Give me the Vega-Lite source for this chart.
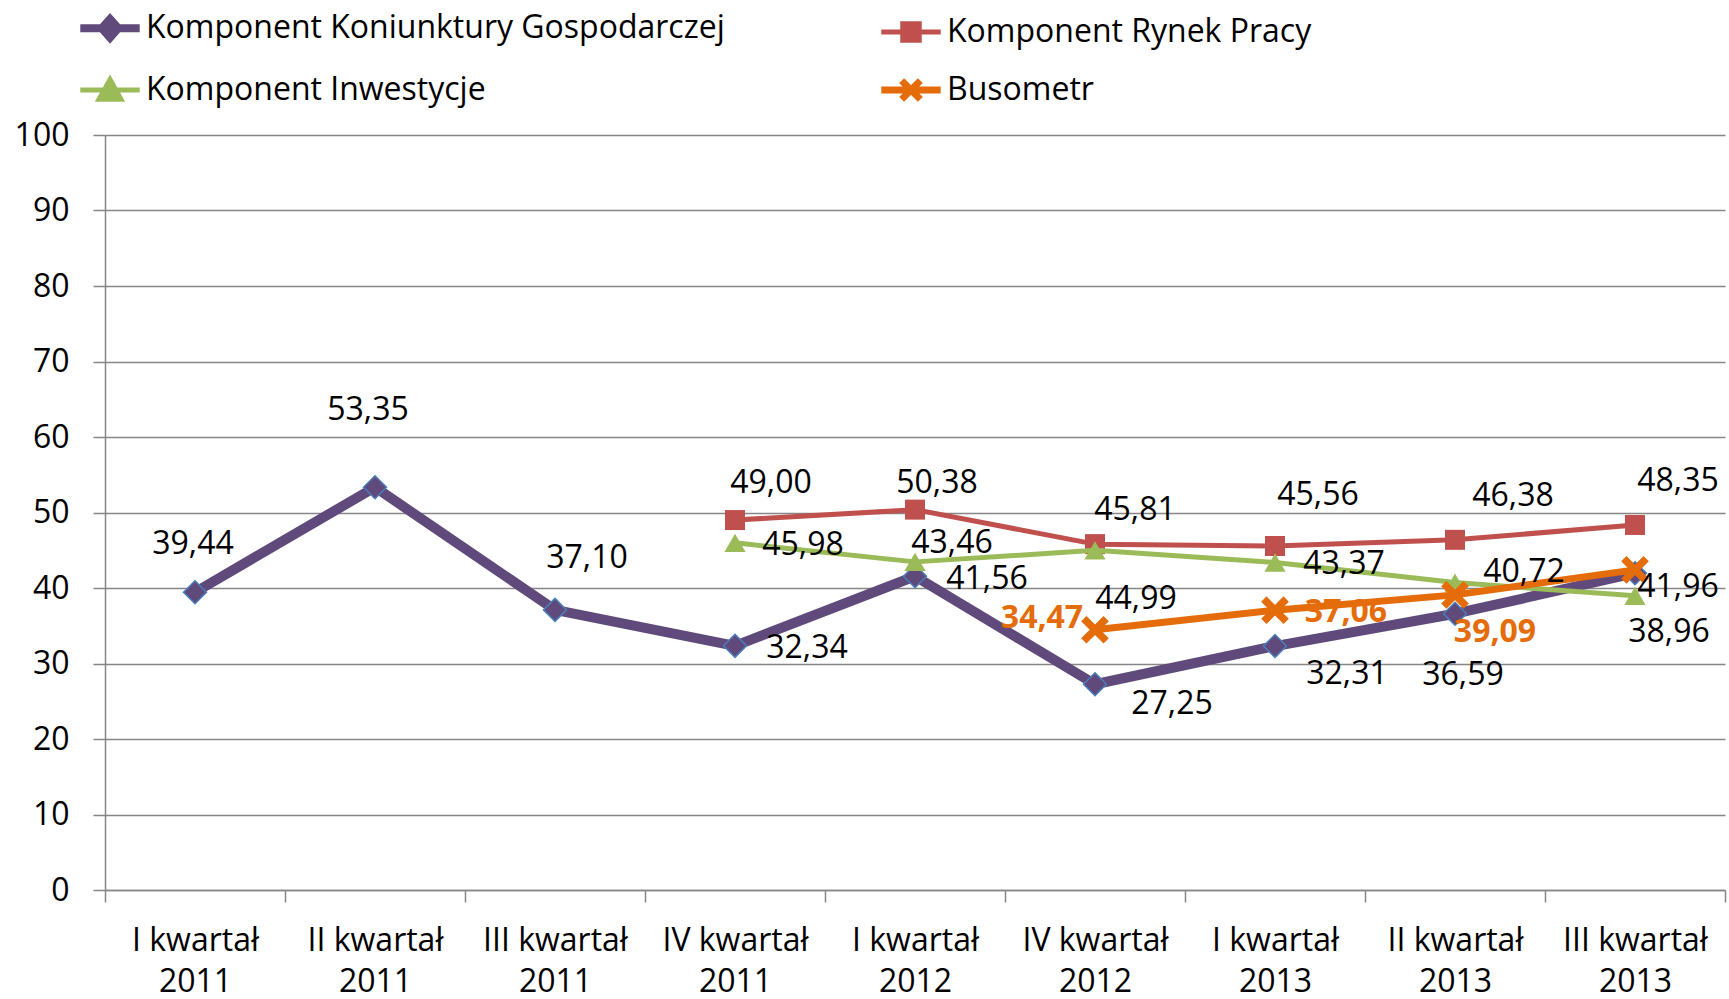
{
  "$schema": "https://vega.github.io/schema/vega-lite/v6.json",
  "width": 1620,
  "height": 755,
  "autosize": "none",
  "padding": {"left": 105, "top": 135, "right": 4, "bottom": 109},
  "background": "white",
  "config": {
    "view": {"stroke": null},
    "locale": {"number": {"decimal": ",", "thousands": ".", "grouping": [3], "currency": ["", " zł"]}},
    "text": {"font": "Open Sans", "fontSize": 32, "color": "black", "align": "center", "baseline": "middle"}
  },
  "data": {
    "values": [
      {"c": "I kwartał 2011", "s": "Komponent Koniunktury Gospodarczej", "v": 39.44},
      {"c": "II kwartał 2011", "s": "Komponent Koniunktury Gospodarczej", "v": 53.35},
      {"c": "III kwartał 2011", "s": "Komponent Koniunktury Gospodarczej", "v": 37.10},
      {"c": "IV kwartał 2011", "s": "Komponent Koniunktury Gospodarczej", "v": 32.34},
      {"c": "I kwartał 2012", "s": "Komponent Koniunktury Gospodarczej", "v": 41.56},
      {"c": "IV kwartał 2012", "s": "Komponent Koniunktury Gospodarczej", "v": 27.25},
      {"c": "I kwartał 2013", "s": "Komponent Koniunktury Gospodarczej", "v": 32.31},
      {"c": "II kwartał 2013", "s": "Komponent Koniunktury Gospodarczej", "v": 36.59},
      {"c": "III kwartał 2013", "s": "Komponent Koniunktury Gospodarczej", "v": 41.96},
      {"c": "IV kwartał 2011", "s": "Komponent Rynek Pracy", "v": 49.00},
      {"c": "I kwartał 2012", "s": "Komponent Rynek Pracy", "v": 50.38},
      {"c": "IV kwartał 2012", "s": "Komponent Rynek Pracy", "v": 45.81},
      {"c": "I kwartał 2013", "s": "Komponent Rynek Pracy", "v": 45.56},
      {"c": "II kwartał 2013", "s": "Komponent Rynek Pracy", "v": 46.38},
      {"c": "III kwartał 2013", "s": "Komponent Rynek Pracy", "v": 48.35},
      {"c": "IV kwartał 2011", "s": "Komponent Inwestycje", "v": 45.98},
      {"c": "I kwartał 2012", "s": "Komponent Inwestycje", "v": 43.46},
      {"c": "IV kwartał 2012", "s": "Komponent Inwestycje", "v": 44.99},
      {"c": "I kwartał 2013", "s": "Komponent Inwestycje", "v": 43.37},
      {"c": "II kwartał 2013", "s": "Komponent Inwestycje", "v": 40.72},
      {"c": "III kwartał 2013", "s": "Komponent Inwestycje", "v": 38.96},
      {"c": "IV kwartał 2012", "s": "Busometr", "v": 34.47},
      {"c": "I kwartał 2013", "s": "Busometr", "v": 37.06},
      {"c": "II kwartał 2013", "s": "Busometr", "v": 39.09},
      {"c": "III kwartał 2013", "s": "Busometr", "v": 42.40}
    ]
  },
  "encoding": {
    "x": {
      "field": "c", "type": "ordinal",
      "sort": ["I kwartał 2011", "II kwartał 2011", "III kwartał 2011", "IV kwartał 2011", "I kwartał 2012", "IV kwartał 2012", "I kwartał 2013", "II kwartał 2013", "III kwartał 2013"],
      "scale": {"type": "band", "paddingInner": 0, "paddingOuter": 0, "domain": ["I kwartał 2011", "II kwartał 2011", "III kwartał 2011", "IV kwartał 2011", "I kwartał 2012", "IV kwartał 2012", "I kwartał 2013", "II kwartał 2013", "III kwartał 2013"]},
      "axis": {
        "title": null, "tickBand": "extent", "grid": false,
        "domainColor": "#868686", "domainWidth": 1.5,
        "tickColor": "#868686", "tickWidth": 1.5, "tickSize": 12,
        "labelAngle": 0, "labelFont": "Open Sans", "labelFontSize": 32, "labelColor": "black",
        "labelLineHeight": 41, "labelPadding": 23, "labelOverlap": false, "labelBound": false, "labelFlush": false,
        "labelExpr": "[slice(datum.label, 0, -5), slice(datum.label, -4)]"
      }
    },
    "y": {
      "field": "v", "type": "quantitative",
      "scale": {"domain": [0, 100], "nice": false},
      "axis": {
        "title": null, "values": [0, 10, 20, 30, 40, 50, 60, 70, 80, 90, 100],
        "grid": true, "gridColor": "#868686", "gridWidth": 1.5,
        "domainColor": "#868686", "domainWidth": 1.5,
        "tickColor": "#868686", "tickWidth": 1.5, "tickSize": 12,
        "labelFont": "Open Sans", "labelFontSize": 32, "labelColor": "black", "labelPadding": 24
      }
    }
  },
  "layer": [
    {
      "transform": [{"filter": "datum.s === 'Komponent Koniunktury Gospodarczej'"}],
      "mark": {"type": "line", "strokeWidth": 10, "strokeJoin": "round"},
      "encoding": {
        "color": {
          "field": "s", "type": "nominal",
          "scale": {"domain": ["Komponent Koniunktury Gospodarczej", "Komponent Inwestycje", "Komponent Rynek Pracy", "Busometr"], "range": ["#604A7B", "#9BBB59", "#C0504D", "#E46C0A"]},
          "legend": {
            "title": null, "orient": "none", "legendX": -11, "legendY": -123, "columns": 2, "columnPadding": 142, "rowPadding": 12,
            "padding": 0, "symbolSize": 484, "labelFont": "Open Sans", "labelFontSize": 32, "labelColor": "black", "labelOffset": 20, "labelLimit": 1000,
            "encode": {
              "symbols": {
                "update": {
                  "shape": {"signal": "datum.value === 'Komponent Koniunktury Gospodarczej' ? 'M-2.7,0H2.7M0,-0.85L0.75,0L0,0.85L-0.75,0Z' : datum.value === 'Komponent Rynek Pracy' ? 'M-2.7,0H2.7M-0.75,-0.75H0.75V0.75H-0.75Z' : datum.value === 'Komponent Inwestycje' ? 'M-2.7,0H2.7M0,-0.95L1,0.85H-1Z' : 'M-2.7,0H2.7M-0.85,-0.85L0.85,0.85M-0.85,0.85L0.85,-0.85'"},
                  "fill": {"signal": "datum.value === 'Komponent Koniunktury Gospodarczej' ? '#604A7B' : datum.value === 'Komponent Rynek Pracy' ? '#C0504D' : datum.value === 'Komponent Inwestycje' ? '#9BBB59' : '#E46C0A'"},
                  "stroke": {"signal": "datum.value === 'Komponent Koniunktury Gospodarczej' ? '#604A7B' : datum.value === 'Komponent Rynek Pracy' ? '#C0504D' : datum.value === 'Komponent Inwestycje' ? '#9BBB59' : '#E46C0A'"},
                  "strokeWidth": {"signal": "datum.value === 'Komponent Koniunktury Gospodarczej' ? 8 : datum.value === 'Busometr' ? 7 : 5"},
                  "opacity": {"value": 1}
                }
              }
            }
          }
        }
      }
    },
    {
      "transform": [{"filter": "datum.s === 'Komponent Koniunktury Gospodarczej'"}],
      "mark": {"type": "point", "shape": "diamond", "size": 529, "filled": true, "fill": "#604A7B", "stroke": "#4A7EBB", "strokeWidth": 1.5, "opacity": 1}
    },
    {
      "transform": [{"filter": "datum.s === 'Komponent Rynek Pracy'"}],
      "mark": {"type": "line", "strokeWidth": 5, "strokeJoin": "round"},
      "encoding": {"color": {"field": "s", "type": "nominal"}}
    },
    {
      "transform": [{"filter": "datum.s === 'Komponent Rynek Pracy'"}],
      "mark": {"type": "point", "shape": "square", "size": 400, "filled": true, "fill": "#C0504D", "strokeWidth": 0, "opacity": 1}
    },
    {
      "transform": [{"filter": "datum.s === 'Komponent Inwestycje'"}],
      "mark": {"type": "line", "strokeWidth": 5, "strokeJoin": "round"},
      "encoding": {"color": {"field": "s", "type": "nominal"}}
    },
    {
      "transform": [{"filter": "datum.s === 'Komponent Inwestycje'"}],
      "mark": {"type": "point", "shape": "triangle-up", "size": 450, "filled": true, "fill": "#9BBB59", "strokeWidth": 0, "opacity": 1}
    },
    {
      "transform": [{"filter": "datum.s === 'Busometr'"}],
      "mark": {"type": "line", "strokeWidth": 7, "strokeJoin": "round"},
      "encoding": {"color": {"field": "s", "type": "nominal"}}
    },
    {
      "transform": [{"filter": "datum.s === 'Busometr'"}],
      "mark": {"type": "point", "shape": "M-1,-1L1,1M-1,1L1,-1", "size": 500, "filled": false, "stroke": "#E46C0A", "strokeWidth": 7.5, "opacity": 1}
    },
    {
      "encoding": {"text": {"field": "v", "type": "quantitative", "format": ".2f"}},
      "layer": [
        {"transform": [{"filter": "datum.s === 'Komponent Koniunktury Gospodarczej' && datum.c === 'I kwartał 2011'"}], "mark": {"type": "text", "dx": -2, "dy": -48}},
        {"transform": [{"filter": "datum.s === 'Komponent Koniunktury Gospodarczej' && datum.c === 'II kwartał 2011'"}], "mark": {"type": "text", "dx": -7, "dy": -77}},
        {"transform": [{"filter": "datum.s === 'Komponent Koniunktury Gospodarczej' && datum.c === 'III kwartał 2011'"}], "mark": {"type": "text", "dx": 32, "dy": -52}},
        {"transform": [{"filter": "datum.s === 'Komponent Koniunktury Gospodarczej' && datum.c === 'IV kwartał 2011'"}], "mark": {"type": "text", "dx": 72, "dy": 2}},
        {"transform": [{"filter": "datum.s === 'Komponent Koniunktury Gospodarczej' && datum.c === 'I kwartał 2012'"}], "mark": {"type": "text", "dx": 72, "dy": 3}},
        {"transform": [{"filter": "datum.s === 'Komponent Koniunktury Gospodarczej' && datum.c === 'IV kwartał 2012'"}], "mark": {"type": "text", "dx": 77, "dy": 20}},
        {"transform": [{"filter": "datum.s === 'Komponent Koniunktury Gospodarczej' && datum.c === 'I kwartał 2013'"}], "mark": {"type": "text", "dx": 72, "dy": 28}},
        {"transform": [{"filter": "datum.s === 'Komponent Koniunktury Gospodarczej' && datum.c === 'II kwartał 2013'"}], "mark": {"type": "text", "dx": 8, "dy": 61}},
        {"transform": [{"filter": "datum.s === 'Komponent Koniunktury Gospodarczej' && datum.c === 'III kwartał 2013'"}], "mark": {"type": "text", "dx": 43, "dy": 14}},
        {"transform": [{"filter": "datum.s === 'Komponent Rynek Pracy' && datum.c === 'IV kwartał 2011'"}], "mark": {"type": "text", "dx": 36, "dy": -37}},
        {"transform": [{"filter": "datum.s === 'Komponent Rynek Pracy' && datum.c === 'I kwartał 2012'"}], "mark": {"type": "text", "dx": 22, "dy": -27}},
        {"transform": [{"filter": "datum.s === 'Komponent Rynek Pracy' && datum.c === 'IV kwartał 2012'"}], "mark": {"type": "text", "dx": 40, "dy": -34}},
        {"transform": [{"filter": "datum.s === 'Komponent Rynek Pracy' && datum.c === 'I kwartał 2013'"}], "mark": {"type": "text", "dx": 43, "dy": -51}},
        {"transform": [{"filter": "datum.s === 'Komponent Rynek Pracy' && datum.c === 'II kwartał 2013'"}], "mark": {"type": "text", "dx": 58, "dy": -44}},
        {"transform": [{"filter": "datum.s === 'Komponent Rynek Pracy' && datum.c === 'III kwartał 2013'"}], "mark": {"type": "text", "dx": 43, "dy": -44}},
        {"transform": [{"filter": "datum.s === 'Komponent Inwestycje' && datum.c === 'IV kwartał 2011'"}], "mark": {"type": "text", "dx": 68, "dy": 2}},
        {"transform": [{"filter": "datum.s === 'Komponent Inwestycje' && datum.c === 'I kwartał 2012'"}], "mark": {"type": "text", "dx": 37, "dy": -19}},
        {"transform": [{"filter": "datum.s === 'Komponent Inwestycje' && datum.c === 'IV kwartał 2012'"}], "mark": {"type": "text", "dx": 41, "dy": 49}},
        {"transform": [{"filter": "datum.s === 'Komponent Inwestycje' && datum.c === 'I kwartał 2013'"}], "mark": {"type": "text", "dx": 69, "dy": 1}},
        {"transform": [{"filter": "datum.s === 'Komponent Inwestycje' && datum.c === 'II kwartał 2013'"}], "mark": {"type": "text", "dx": 69, "dy": -11}},
        {"transform": [{"filter": "datum.s === 'Komponent Inwestycje' && datum.c === 'III kwartał 2013'"}], "mark": {"type": "text", "dx": 34, "dy": 36}},
        {"transform": [{"filter": "datum.s === 'Busometr' && datum.c === 'IV kwartał 2012'"}], "mark": {"type": "text", "dx": -53, "dy": -12, "color": "#E46C0A", "fontWeight": "bold"}},
        {"transform": [{"filter": "datum.s === 'Busometr' && datum.c === 'I kwartał 2013'"}], "mark": {"type": "text", "dx": 71, "dy": 2, "color": "#E46C0A", "fontWeight": "bold"}},
        {"transform": [{"filter": "datum.s === 'Busometr' && datum.c === 'II kwartał 2013'"}], "mark": {"type": "text", "dx": 40, "dy": 37, "color": "#E46C0A", "fontWeight": "bold"}}
      ]
    }
  ]
}
